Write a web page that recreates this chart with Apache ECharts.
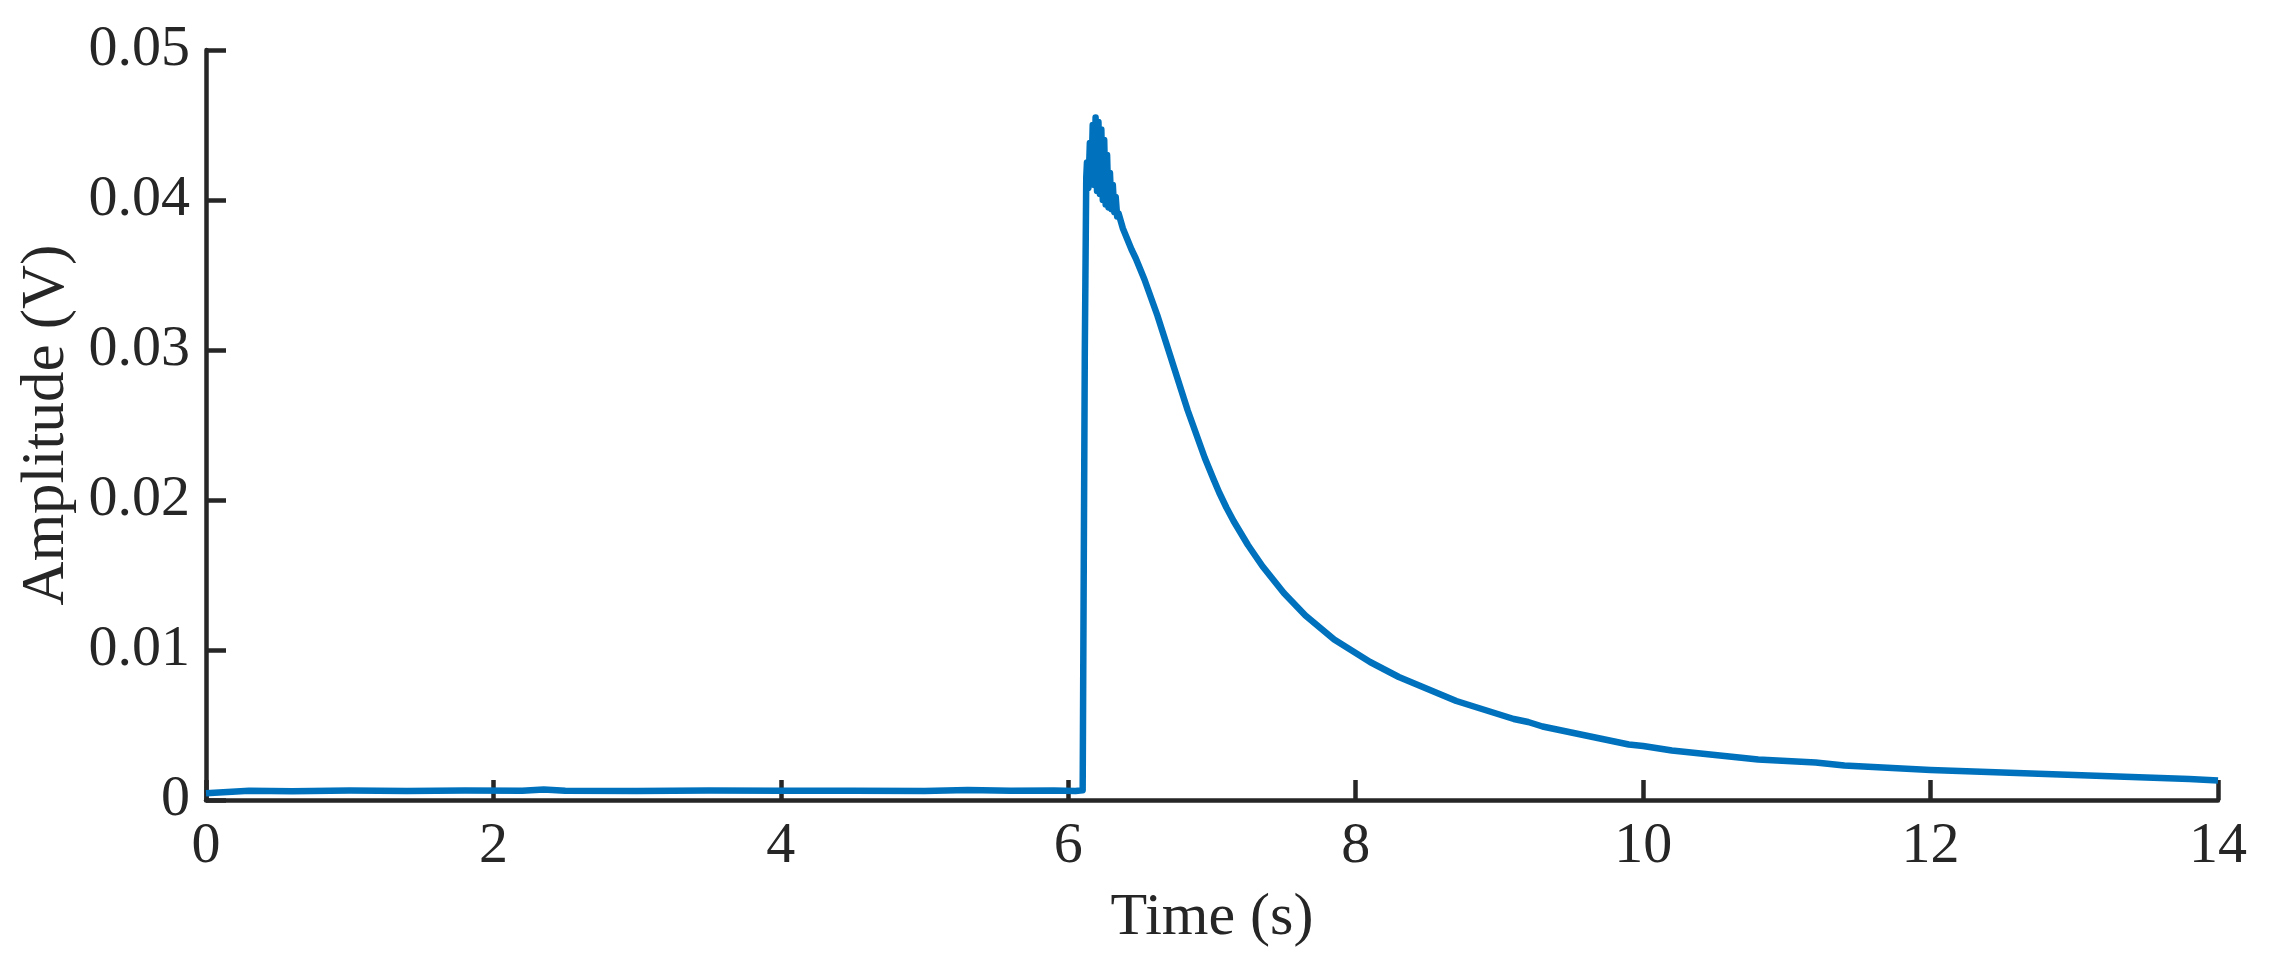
<!DOCTYPE html>
<html>
<head><meta charset="utf-8"></head>
<script type="text/javascript" src="https://cdn.jsdelivr.net/npm/echarts@6/dist/echarts.min.js"></script>
<body style="margin:0;background-color:#ffffff;">
    <div id="main" style="width:2284px;height:975px;"></div>
</body>
<script type="text/javascript">
// time (s)
var times = [
    0, 0.3, 0.6, 1.0, 1.4, 1.8, 2.2, 2.35, 2.5, 3.0, 3.5, 4.0, 4.5, 5.0, 5.3, 5.6, 5.9, 6.05, 6.10,
    6.115, 6.125, 6.13, 6.14, 6.15, 6.16, 6.17, 6.18, 6.19, 6.20, 6.21, 6.22, 6.23, 6.24, 6.25, 6.26,
    6.27, 6.28, 6.29, 6.30, 6.31, 6.32, 6.33, 6.34, 6.35, 6.38, 6.41, 6.44, 6.47, 6.50, 6.53, 6.56, 6.59, 6.62,
    6.65, 6.68, 6.71, 6.74, 6.77, 6.80, 6.83, 6.86, 6.89, 6.92, 6.95, 6.98, 7.01, 7.05, 7.10, 7.15,
    7.20, 7.25, 7.30, 7.35, 7.40, 7.45, 7.50, 7.55, 7.60, 7.65, 7.70, 7.75, 7.80, 7.85, 7.90, 7.95,
    8.00, 8.10, 8.20, 8.30, 8.40, 8.50, 8.60, 8.70, 8.80, 8.90, 9.00, 9.10, 9.20, 9.30, 9.40, 9.50,
    9.60, 9.70, 9.80, 9.90, 10.0, 10.2, 10.4, 10.6, 10.8, 11.0, 11.2, 11.4, 11.6, 11.8, 12.0, 12.3,
    12.6, 12.9, 13.2, 13.5, 13.8, 14.0
];
// amplitude (V)
var amps = [
    0.00045, 0.00062, 0.00058, 0.00063, 0.00060, 0.00064, 0.00061, 0.00070, 0.00062, 0.00060, 0.00063, 0.00061, 0.00062, 0.00060, 0.00066, 0.00061, 0.00063, 0.00060, 0.00065,
    0.0300, 0.0415, 0.0425, 0.0408, 0.0438, 0.0412, 0.0450, 0.0410, 0.0455, 0.0406, 0.0452, 0.0404, 0.0447, 0.0400, 0.0440, 0.0397,
    0.0430, 0.0395, 0.0418, 0.0394, 0.0410, 0.0392, 0.0402, 0.0389, 0.0391, 0.0381, 0.0374, 0.0367, 0.0361, 0.0354, 0.0347, 0.0339, 0.0331, 0.0323,
    0.0314, 0.0305, 0.0296, 0.0287, 0.0278, 0.0269, 0.0260, 0.0252, 0.0244, 0.0236, 0.0228, 0.0221, 0.0214, 0.0205, 0.0195, 0.0186,
    0.0178, 0.0170, 0.0163, 0.0156, 0.0150, 0.0144, 0.0138, 0.0133, 0.0128, 0.0123, 0.0119, 0.0115, 0.0111, 0.0107, 0.0104, 0.0101,
    0.0098, 0.0092, 0.0087, 0.0082, 0.0078, 0.0074, 0.0070, 0.0066, 0.0063, 0.0060, 0.0057, 0.0054, 0.0052, 0.0049, 0.0047, 0.0045,
    0.0043, 0.0041, 0.0039, 0.0037, 0.0036, 0.0033, 0.0031, 0.0029, 0.0027, 0.0026, 0.0025, 0.0023, 0.0022, 0.0021, 0.0020, 0.0019,
    0.0018, 0.0017, 0.0016, 0.0015, 0.0014, 0.0013
];
var xTicks = [0, 14, 2];      // min, max, step
var yTicks = [0, 0.05, 0.01];

var data = [];
for (var i = 0; i < times.length; i++) {
    data.push([times[i], amps[i]]);
}

var font = 'Liberation Serif, Times New Roman, serif';
var ink = '#262626';

var myChart = echarts.init(document.getElementById('main'));
myChart.setOption({
    animation: false,
    grid: { left: 206, right: 66, top: 50, bottom: 175, outerBoundsMode: 'none' },
    xAxis: {
        type: 'value',
        min: xTicks[0], max: xTicks[1], interval: xTicks[2],
        name: 'Time (s)',
        nameLocation: 'middle',
        nameGap: 88,
        nameTextStyle: { fontFamily: font, fontSize: 60, color: ink },
        axisLine: { lineStyle: { color: ink, width: 4.5 } },
        axisTick: { inside: true, length: 20, lineStyle: { color: ink, width: 4.5 } },
        axisLabel: { fontFamily: font, fontSize: 58, color: ink, margin: 18 },
        splitLine: { show: false }
    },
    yAxis: {
        type: 'value',
        min: yTicks[0], max: yTicks[1], interval: yTicks[2],
        name: 'Amplitude (V)',
        nameLocation: 'middle',
        nameGap: 120,
        nameTextStyle: { fontFamily: font, fontSize: 61, color: ink },
        axisLine: { show: true, lineStyle: { color: ink, width: 4.5 } },
        axisTick: { show: true, inside: true, length: 20, lineStyle: { color: ink, width: 4.5 } },
        axisLabel: { fontFamily: font, fontSize: 58, color: ink, margin: 16 },
        splitLine: { show: false }
    },
    series: [
        {
            type: 'line',
            data: data,
            showSymbol: false,
            lineStyle: { color: '#0072BD', width: 6.5, join: 'round' },
            itemStyle: { color: '#0072BD' }
        }
    ]
});
</script>
</html>
